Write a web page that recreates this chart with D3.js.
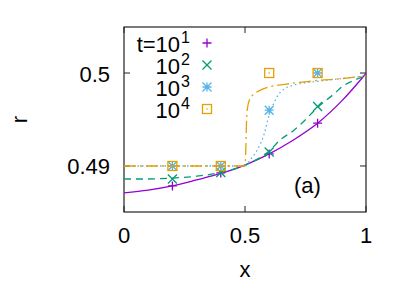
<!DOCTYPE html>
<html>
<head>
<meta charset="utf-8">
<script src="https://cdn.jsdelivr.net/npm/d3@7"></script>
<style>
  body { margin: 0; background: #fff; }
  text { font-family: "Liberation Sans", Arial, sans-serif; fill: #000; }
</style>
</head>
<body>
<svg width="407" height="285"></svg>
<script>
// sample points (markers)
const markerX = [0.2, 0.4, 0.6, 0.8];
const r10 = [0.48785, 0.48925, 0.4913, 0.4946];
const r100 = [0.4886, 0.4893, 0.4915, 0.4964];
const r1000 = [0.49, 0.49, 0.4960, 0.5];
const r10000 = [0.49, 0.49, 0.5, 0.5];

// fitted curves
const curve10X = [0, 0.1, 0.2, 0.3, 0.4, 0.5, 0.6, 0.7, 0.8, 0.9, 1.0];
const curve10Y = [0.4871, 0.4874, 0.48785, 0.4885, 0.4892, 0.4901, 0.4913, 0.4928, 0.4946, 0.4970, 0.49995];
const curve100X = [0, 0.1, 0.2, 0.3, 0.4, 0.5, 0.6, 0.645, 0.7, 0.735, 0.8, 0.87, 0.905, 0.95, 1.0];
const curve100Y = [0.4886, 0.4886, 0.4887, 0.4889, 0.4893, 0.4901, 0.4916, 0.4928, 0.4938, 0.4946, 0.4963, 0.4978, 0.4986, 0.4992, 0.4997];
const curve1000X = [0, 0.5, 0.52, 0.55, 0.58, 0.6, 0.62, 0.645, 0.7, 0.8, 0.9, 1.0];
const curve1000Y = [0.49, 0.49, 0.4906, 0.4917, 0.4935, 0.4955, 0.4968, 0.4979, 0.4987, 0.4991, 0.4994, 0.4997];
const curve10000X = [0, 0.5, 0.503, 0.506, 0.51, 0.52, 0.535, 0.56, 0.6, 0.67, 0.8, 0.9, 1.0];
const curve10000Y = [0.49, 0.49, 0.4915, 0.4945, 0.4962, 0.4972, 0.4977, 0.4981, 0.4985, 0.4988, 0.4992, 0.4994, 0.4997];

const legendBase = ["t=10", "10", "10", "10"];
const legendExp = ["1", "2", "3", "4"];
const xTicks = [0, 0.5, 1];
const yTicks = [0.49, 0.5];

const svg = d3.select("svg");
const plotL = 124, plotR = 366, plotT = 27, plotB = 212;

const x = d3.scaleLinear().domain([0, 1]).range([plotL, plotR]);
const y = d3.scaleLinear().domain([0.48505, 0.50495]).range([plotB, plotT]);

const series = [
  { mx: markerX, my: r10, cx: curve10X, cy: curve10Y, color: "#9400d3", dash: null, mark: "plus" },
  { mx: markerX, my: r100, cx: curve100X, cy: curve100Y, color: "#009e73", dash: "7,5", mark: "cross" },
  { mx: markerX, my: r1000, cx: curve1000X, cy: curve1000Y, color: "#56b4e9", dash: "1.5,3", mark: "star" },
  { mx: markerX, my: r10000, cx: curve10000X, cy: curve10000Y, color: "#e69f00", dash: "12,4,2,4", mark: "square" }
];

// border
svg.append("rect")
  .attr("x", plotL).attr("y", plotT)
  .attr("width", plotR - plotL).attr("height", plotB - plotT)
  .attr("fill", "none").attr("stroke", "#222").attr("stroke-width", 1.2);

// ticks (inside, mirrored)
const tickLen = 6;
yTicks.forEach(t => {
  svg.append("line").attr("x1", plotL).attr("x2", plotL + tickLen)
    .attr("y1", y(t)).attr("y2", y(t)).attr("stroke", "#222");
  svg.append("line").attr("x1", plotR).attr("x2", plotR - tickLen)
    .attr("y1", y(t)).attr("y2", y(t)).attr("stroke", "#222");
  svg.append("text").attr("x", plotL - 14).attr("y", y(t) + 8.5)
    .attr("text-anchor", "end").attr("font-size", 22).text(t === 0.5 ? "0.5" : "0.49");
});
xTicks.forEach(t => {
  svg.append("line").attr("y1", plotB).attr("y2", plotB - tickLen)
    .attr("x1", x(t)).attr("x2", x(t)).attr("stroke", "#222");
  svg.append("line").attr("y1", plotT).attr("y2", plotT + tickLen)
    .attr("x1", x(t)).attr("x2", x(t)).attr("stroke", "#222");
  svg.append("text").attr("x", x(t)).attr("y", plotB + 31)
    .attr("text-anchor", "middle").attr("font-size", 22).text(d3.format("")(t));
});

// axis labels
svg.append("text").attr("x", x(0.5)).attr("y", 277)
  .attr("text-anchor", "middle").attr("font-size", 22).text("x");
svg.append("text").attr("transform", `translate(27,${(plotT + plotB) / 2}) rotate(-90)`)
  .attr("text-anchor", "middle").attr("font-size", 22).text("r");

const line = d3.line().curve(d3.curveMonotoneX);

function drawMark(g, kind, cx, cy, color) {
  const s = 4.5;
  if (kind === "plus") {
    g.append("path").attr("d", `M${cx - s},${cy}H${cx + s}M${cx},${cy - s}V${cy + s}`)
      .attr("stroke", color).attr("stroke-width", 1.3).attr("fill", "none");
  } else if (kind === "cross") {
    g.append("path").attr("d", `M${cx - s},${cy - s}L${cx + s},${cy + s}M${cx - s},${cy + s}L${cx + s},${cy - s}`)
      .attr("stroke", color).attr("stroke-width", 1.3).attr("fill", "none");
  } else if (kind === "star") {
    g.append("path").attr("d", `M${cx - s},${cy}H${cx + s}M${cx},${cy - s}V${cy + s}M${cx - s},${cy - s}L${cx + s},${cy + s}M${cx - s},${cy + s}L${cx + s},${cy - s}`)
      .attr("stroke", color).attr("stroke-width", 1.3).attr("fill", "none");
  } else {
    g.append("rect").attr("x", cx - s).attr("y", cy - s).attr("width", 2 * s).attr("height", 2 * s)
      .attr("stroke", color).attr("stroke-width", 1.3).attr("fill", "none");
    g.append("circle").attr("cx", cx).attr("cy", cy).attr("r", 0.8).attr("fill", color);
  }
}

const plot = svg.append("g");
series.forEach(s => {
  plot.append("path")
    .attr("d", line(d3.zip(s.cx, s.cy).map(p => [x(p[0]), y(p[1])])))
    .attr("fill", "none").attr("stroke", s.color).attr("stroke-width", 1.3)
    .attr("stroke-dasharray", s.dash);
  s.mx.forEach((v, i) => drawMark(plot, s.mark, x(v), y(s.my[i]), s.color));
});

// legend
const legendY = [43, 65, 87, 109];
series.forEach((s, i) => {
  const t = svg.append("text").attr("x", 190).attr("y", legendY[i] + 9)
    .attr("text-anchor", "end").attr("font-size", 22);
  t.append("tspan").text(legendBase[i]);
  t.append("tspan").attr("dx", 1).attr("dy", -9).attr("font-size", 16).text(legendExp[i]);
  drawMark(svg, s.mark, 207, legendY[i], s.color);
});

svg.append("text").attr("x", 294).attr("y", 193).attr("font-size", 22).text("(a)");
</script>
</body>
</html>
